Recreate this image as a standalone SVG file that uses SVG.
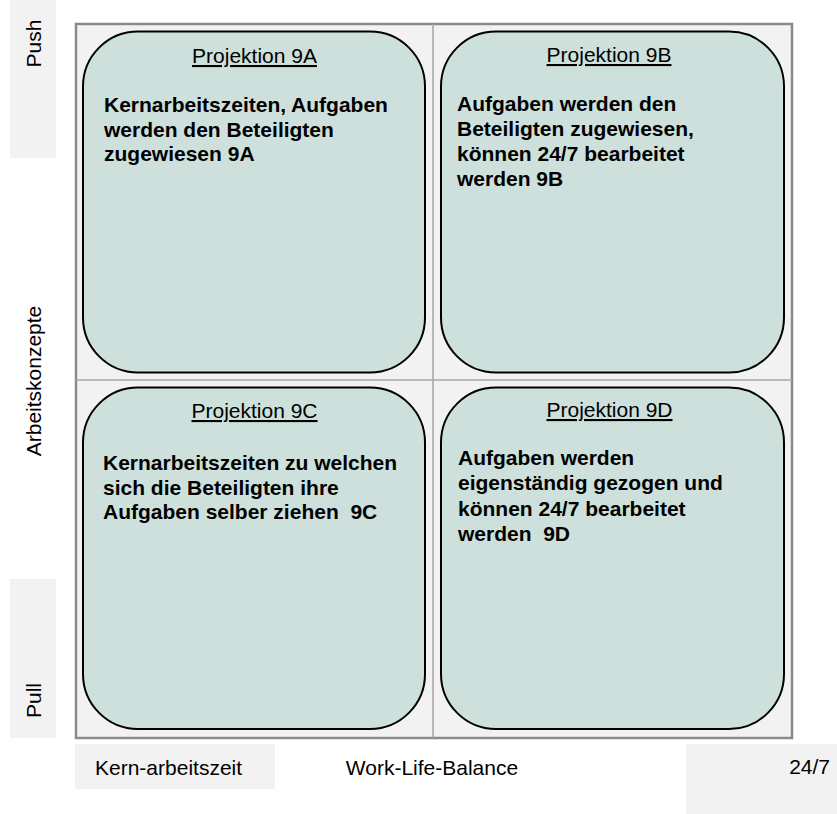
<svg xmlns="http://www.w3.org/2000/svg" width="837" height="814" viewBox="0 0 837 814">
  <style>
    .lbl { font-family: "Liberation Sans", Arial, sans-serif; font-size: 21px; fill: #000; }
    .bg { fill: #f2f2f2; }
    .card { fill: #cde0db; stroke: #000; stroke-width: 2; }
    .title { font-family: "Liberation Sans", Arial, sans-serif; font-size: 21px; fill: #000; text-anchor: middle; text-decoration: underline; }
    .body { font-family: "Liberation Sans", Arial, sans-serif; font-size: 21px; font-weight: bold; fill: #000; }
    .grid { fill: none; stroke: #a6a6a6; stroke-width: 1.5; }
  </style>

  <rect width="837" height="814" fill="#ffffff"/>

  <!-- axis labels -->
  <g id="axis-push">
    <rect class="bg" x="10" y="0" width="46" height="158"/>
    <text class="lbl" text-anchor="middle" transform="translate(41,43.5) rotate(-90)">Push</text>
  </g>
  <g id="axis-concepts">
    <text class="lbl" text-anchor="middle" transform="translate(41,381) rotate(-90)">Arbeitskonzepte</text>
  </g>
  <g id="axis-pull">
    <rect class="bg" x="10" y="579" width="46" height="159"/>
    <text class="lbl" text-anchor="middle" transform="translate(41,700.5) rotate(-90)">Pull</text>
  </g>
  <g id="axis-core">
    <rect class="bg" x="75" y="744" width="200" height="45"/>
    <text class="lbl" x="95" y="775">Kern-arbeitszeit</text>
  </g>
  <g id="axis-balance">
    <text class="lbl" x="432" y="775" text-anchor="middle">Work-Life-Balance</text>
  </g>
  <g id="axis-247">
    <rect class="bg" x="686" y="744" width="151" height="70"/>
    <text class="lbl" x="830" y="774" text-anchor="end">24/7</text>
  </g>

  <!-- quadrant frame -->
  <g id="frame">
    <rect x="76" y="24" width="716" height="714" fill="#f2f2f2" stroke="#8a8a8a" stroke-width="2.5"/>
    <line class="grid" x1="433" y1="24" x2="433" y2="738"/>
    <line class="grid" x1="76" y1="380" x2="792" y2="380"/>
  </g>

  <!-- quadrant cards -->
  <g id="card-9a">
    <rect class="card" x="83" y="31.5" width="342" height="341" rx="55" ry="55"/>
    <text class="title" x="254.5" y="63">Projektion 9A</text>
    <text class="body" x="104" y="112">Kernarbeitszeiten, Aufgaben</text>
    <text class="body" x="104" y="136.5">werden den Beteiligten</text>
    <text class="body" x="104" y="161">zugewiesen 9A</text>
  </g>

  <g id="card-9b">
    <rect class="card" x="441" y="31.5" width="343" height="341" rx="55" ry="55"/>
    <text class="title" x="609" y="62">Projektion 9B</text>
    <text class="body" x="457" y="111">Aufgaben werden den</text>
    <text class="body" x="457" y="136">Beteiligten zugewiesen,</text>
    <text class="body" x="457" y="161">können 24/7 bearbeitet</text>
    <text class="body" x="457" y="186">werden 9B</text>
  </g>

  <g id="card-9c">
    <rect class="card" x="83" y="387.5" width="342" height="341.5" rx="55" ry="55"/>
    <text class="title" x="254.5" y="418">Projektion 9C</text>
    <text class="body" x="103" y="470">Kernarbeitszeiten zu welchen</text>
    <text class="body" x="103" y="494.5">sich die Beteiligten ihre</text>
    <text class="body" x="103" y="519" xml:space="preserve">Aufgaben selber ziehen  9C</text>
  </g>

  <g id="card-9d">
    <rect class="card" x="441" y="387.5" width="343" height="341.5" rx="55" ry="55"/>
    <text class="title" x="609.5" y="417">Projektion 9D</text>
    <text class="body" x="458" y="465">Aufgaben werden</text>
    <text class="body" x="458" y="490">eigenständig gezogen und</text>
    <text class="body" x="458" y="515.5">können 24/7 bearbeitet</text>
    <text class="body" x="458" y="541" xml:space="preserve">werden  9D</text>
  </g>

  <!-- no connectors in this chart -->
  <g id="connectors"/>
</svg>
